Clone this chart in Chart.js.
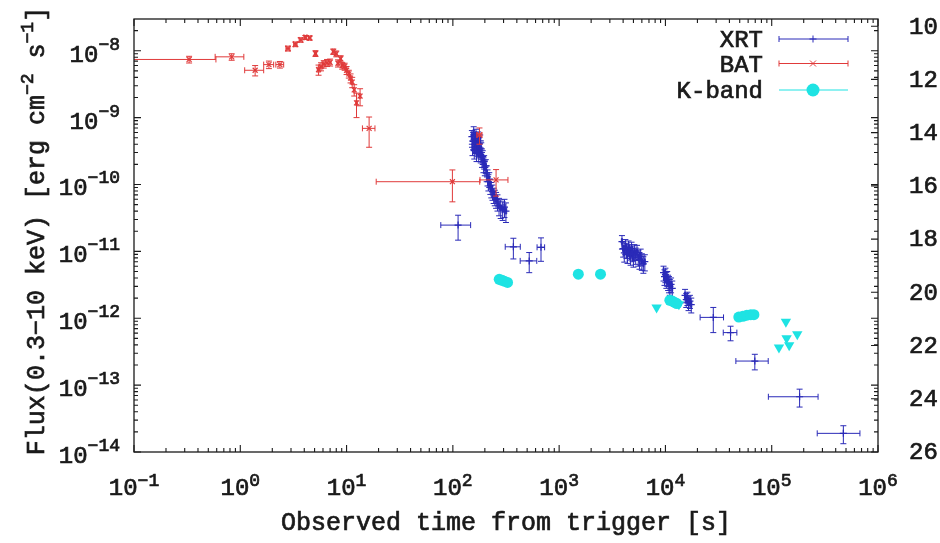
<!DOCTYPE html>
<html>
<head>
<meta charset="utf-8">
<script src="https://cdn.jsdelivr.net/npm/chart.js@4/dist/chart.umd.min.js"></script>
<style>
  html, body { margin: 0; padding: 0; background: #ffffff; }
  canvas { display: block; }
</style>
</head>
<body>
<canvas id="lc" width="940" height="543"></canvas>
<script>
// ---- Swift XRT light curve (0.3-10 keV flux) ----
const xrtTime = [112,
  151, 153, 155, 157, 159, 161, 163, 165, 167, 169, 171, 173, 175, 177, 179, 181, 183, 185, 188, 191, 194, 197, 200, 204, 208, 212, 216, 220,
  225, 230, 236, 242, 248, 255, 263, 272, 282, 294, 306, 316,
  371, 523, 675,
  3900, 4000, 4100, 4200, 4300, 4400, 4500, 4600, 4700, 4800, 4900, 5000, 5100, 5250, 5400, 5550, 5700, 5850, 6000, 6200, 6400,
  9600, 9800, 10000, 10200, 10400, 10600, 10800, 11000, 11300, 11600,
  15300, 15700, 16100, 16500, 17000, 17500,
  28200, 41000, 69350, 183000, 472000];
const xrtTimeErr = [35,
  2, 2, 2, 2, 2, 2, 2, 2, 2, 2, 2, 2, 2, 2, 2, 2, 2, 2, 2, 2, 2, 2, 2, 2, 2, 2, 2, 2,
  3, 3, 3, 3, 3, 4, 4, 4, 5, 5, 5, 5,
  60, 93, 55,
  50, 50, 50, 50, 50, 50, 50, 50, 50, 50, 50, 50, 50, 50, 50, 50, 50, 50, 50, 50, 50,
  100, 100, 100, 100, 100, 100, 100, 100, 100, 100,
  200, 200, 200, 200, 200, 200,
  7000, 6000, 23350, 90000, 204000];
const xrtFlux = [2.47e-11,
  5.2e-10, 3.6e-10, 4.4e-10, 6.0e-10, 3.2e-10, 4.8e-10, 3.9e-10, 5.5e-10, 3.0e-10, 4.2e-10, 3.5e-10, 5.0e-10, 2.9e-10, 4.0e-10, 3.3e-10, 4.5e-10, 2.8e-10, 3.4e-10, 2.4e-10, 2.6e-10, 2.0e-10, 2.2e-10, 1.8e-10, 1.9e-10, 1.5e-10, 1.3e-10, 1.1e-10, 1.2e-10,
  9.5e-11, 8.5e-11, 7.8e-11, 7.0e-11, 6.5e-11, 6.0e-11, 5.5e-11, 4.8e-11, 4.5e-11, 4.2e-11, 4.6e-11, 4.0e-11,
  1.17e-11, 7.2e-12, 1.15e-11,
  1.4e-11, 1.1e-11, 9.5e-12, 1.2e-11, 1.05e-11, 9.0e-12, 1.15e-11, 1.0e-11, 8.5e-12, 1.1e-11, 9.5e-12, 8.0e-12, 1.0e-11, 8.8e-12, 9.8e-12, 8.2e-12, 7.5e-12, 8.5e-12, 7.2e-12, 6.5e-12, 7.0e-12,
  4.8e-12, 4.2e-12, 4.5e-12, 3.8e-12, 4.0e-12, 3.5e-12, 3.3e-12, 3.0e-12, 3.2e-12, 2.8e-12,
  2.2e-12, 1.9e-12, 2.0e-12, 1.7e-12, 1.8e-12, 1.6e-12,
  1.03e-12, 6.1e-13, 2.29e-13, 6.7e-14, 1.9e-14];
const xrtFluxErr = [1.0e-11,
  1.2e-10, 0.9e-10, 1.1e-10, 1.3e-10, 0.8e-10, 1.1e-10, 1.0e-10, 1.2e-10, 0.8e-10, 1.0e-10, 0.9e-10, 1.1e-10, 0.7e-10, 1.0e-10, 0.8e-10, 1.0e-10, 0.7e-10, 0.8e-10, 0.6e-10, 0.6e-10, 0.5e-10, 0.5e-10, 0.45e-10, 0.45e-10, 0.4e-10, 0.35e-10, 0.3e-10, 0.3e-10,
  2.4e-11, 2.2e-11, 2.0e-11, 1.8e-11, 1.7e-11, 1.6e-11, 1.5e-11, 1.4e-11, 1.4e-11, 1.3e-11, 1.4e-11, 1.3e-11,
  4.0e-12, 2.4e-12, 4.4e-12,
  3.2e-12, 2.8e-12, 2.6e-12, 3.0e-12, 2.7e-12, 2.4e-12, 2.8e-12, 2.6e-12, 2.3e-12, 2.7e-12, 2.5e-12, 2.2e-12, 2.6e-12, 2.4e-12, 2.5e-12, 2.2e-12, 2.1e-12, 2.3e-12, 2.0e-12, 1.8e-12, 1.9e-12,
  1.2e-12, 1.1e-12, 1.1e-12, 1.0e-12, 1.0e-12, 0.9e-12, 0.9e-12, 0.8e-12, 0.8e-12, 0.8e-12,
  0.5e-12, 0.45e-12, 0.45e-12, 0.4e-12, 0.4e-12, 0.4e-12,
  0.42e-12, 1.5e-13, 0.6e-13, 2.0e-14, 0.57e-14];

// ---- Swift BAT light curve (extrapolated to 0.3-10 keV) ----
const batTime = [0.33, 0.83, 1.38, 1.86, 2.36, 2.81, 3.3, 3.7, 4.1, 4.5, 5.1, 5.45, 5.75, 6.1, 6.55, 7.0,
  7.5, 8.0, 8.3, 8.8, 9.1, 9.6, 10.0, 10.5, 10.9, 11.3, 11.8, 12.4, 13.4, 16.3, 99, 178, 255];
const batTimeErr = [0.26, 0.25, 0.28, 0.2, 0.2, 0.12, 0.12, 0.12, 0.12, 0.12, 0.12, 0.15, 0.15, 0.15, 0.15, 0.15,
  0.15, 0.15, 0.15, 0.15, 0.15, 0.15, 0.15, 0.15, 0.15, 0.15, 0.2, 0.2, 0.2, 2.2, 80, 10, 75];
const batFlux = [7.4e-9, 8.1e-9, 5.1e-9, 6.2e-9, 6.2e-9, 1.08e-8, 1.25e-8, 1.45e-8, 1.58e-8, 1.55e-8, 9.1e-9, 5.2e-9, 5.8e-9, 6.3e-9, 6.6e-9, 6.7e-9,
  9.7e-9, 9.0e-9, 6.5e-9, 7.6e-9, 6.0e-9, 5.8e-9, 5.1e-9, 4.5e-9, 3.9e-9, 3.4e-9, 2.6e-9, 1.66e-9, 2.1e-9, 6.9e-10, 1.1e-10, 5.5e-10, 1.17e-10];
const batFluxErr = [0.85e-9, 0.9e-9, 0.9e-9, 0.8e-9, 0.7e-9, 0.9e-9, 1.0e-9, 1.1e-9, 1.1e-9, 1.1e-9, 0.9e-9, 0.9e-9, 0.8e-9, 0.8e-9, 0.8e-9, 0.8e-9,
  0.9e-9, 0.9e-9, 0.8e-9, 0.8e-9, 0.7e-9, 0.7e-9, 0.7e-9, 0.6e-9, 0.6e-9, 0.6e-9, 0.5e-9, 0.66e-9, 0.6e-9, 3.3e-10, 5.5e-11, 1.5e-10, 5.0e-11];

// ---- K-band photometry (magnitudes, right axis) ----
const kTime = [273, 290, 305, 327, 1515, 2450, 11000, 11600, 12200, 12800, 49000, 53500, 58400, 63600, 68000];
const kMag  = [19.51, 19.55, 19.58, 19.63, 19.32, 19.32, 20.30, 20.33, 20.38, 20.42, 20.93, 20.90, 20.86, 20.84, 20.84];
// K-band upper limits
const kLimTime = [8260, 13400, 117000, 136000, 138000, 146000, 174000];
const kLimMag  = [20.57, 20.45, 22.07, 21.11, 21.73, 21.99, 21.58];

// ---- axis ticks ----
const timeTickExp = [-1, 0, 1, 2, 3, 4, 5, 6];
const fluxTickExp = [-14, -13, -12, -11, -10, -9, -8];
const magTicks = [10, 12, 14, 16, 18, 20, 22, 24, 26];

const BLUE = '#2a2ab8';
const RED = '#e03a3a';
const CYAN = '#1ee3e3';
const INK = '#1a1a1a';
const FONT = '"Courier New", Courier, "Nimbus Mono PS", "Liberation Mono", monospace';

const toPoints = (xs, ys) => xs.map((x, i) => ({ x: x, y: ys[i] }));

// Text is filled and given a hairline outline so the thin mono face reads a little heavier
function ink(ctx, s, x, y) {
  ctx.fillText(s, x, y);
  ctx.strokeText(s, x, y);
}

// Draws x/y error bars with caps, just before each dataset's markers
const errorBars = {
  id: 'errorBars',
  beforeDatasetDraw(chart, args) {
    const ds = chart.data.datasets[args.index];
    if (!ds.xErr) return;
    const xs = chart.scales[args.meta.xAxisID];
    const ys = chart.scales[args.meta.yAxisID];
    const a = chart.chartArea;
    const ctx = chart.ctx;
    const cap = 3;
    ctx.save();
    ctx.beginPath();
    ctx.rect(a.left, a.top, a.right - a.left, a.bottom - a.top);
    ctx.clip();
    ctx.strokeStyle = ds.borderColor;
    ctx.lineWidth = 1;
    ds.data.forEach((p, i) => {
      const dx = ds.xErr[i], dy = ds.yErr[i];
      const x = xs.getPixelForValue(p.x), y = ys.getPixelForValue(p.y);
      const xl = xs.getPixelForValue(Math.max(p.x - dx, xs.min * 0.5));
      const xr = xs.getPixelForValue(p.x + dx);
      const yb = ys.getPixelForValue(Math.max(p.y - dy, ys.min * 0.1));
      const yt = ys.getPixelForValue(p.y + dy);
      ctx.beginPath();
      ctx.moveTo(xl, y); ctx.lineTo(xr, y);
      ctx.moveTo(xl, y - cap); ctx.lineTo(xl, y + cap);
      ctx.moveTo(xr, y - cap); ctx.lineTo(xr, y + cap);
      ctx.moveTo(x, yb); ctx.lineTo(x, yt);
      ctx.moveTo(x - cap, yb); ctx.lineTo(x + cap, yb);
      ctx.moveTo(x - cap, yt); ctx.lineTo(x + cap, yt);
      ctx.stroke();
    });
    ctx.restore();
  }
};

// Text with a raised exponent: base then superscript
function powWidth(ctx, base, exp, bSize, eSize) {
  ctx.font = bSize + 'px ' + FONT;
  const wb = ctx.measureText(base).width;
  ctx.font = eSize + 'px ' + FONT;
  const we = ctx.measureText(exp).width;
  return [wb, we];
}
function drawPow(ctx, base, exp, x, baseline, raise, bSize, eSize) {
  ctx.textBaseline = 'alphabetic';
  ctx.textAlign = 'left';
  ctx.font = bSize + 'px ' + FONT;
  ink(ctx, base, x, baseline);
  const wb = ctx.measureText(base).width;
  ctx.font = eSize + 'px ' + FONT;
  ink(ctx, exp, x + wb, baseline - raise);
}

// Frame, inward ticks, tick labels, axis titles and key
const frame = {
  id: 'frame',
  afterDraw(chart) {
    const ctx = chart.ctx;
    const a = chart.chartArea;
    const xs = chart.scales.x, ys = chart.scales.y, y2 = chart.scales.y2;
    const major = 7, minor = 4;
    ctx.save();
    ctx.strokeStyle = INK;
    ctx.fillStyle = INK;
    ctx.lineWidth = 1.3;
    ctx.strokeRect(a.left, a.top, a.right - a.left, a.bottom - a.top);

    ctx.lineWidth = 1.1;
    ctx.beginPath();
    // time axis ticks (bottom and mirrored top)
    for (let e = timeTickExp[0]; e <= timeTickExp[timeTickExp.length - 1]; e++) {
      for (let k = 1; k <= 9; k++) {
        const v = k * Math.pow(10, e);
        if (v < xs.min || v > xs.max) continue;
        const px = xs.getPixelForValue(v);
        const len = k === 1 ? major : minor;
        ctx.moveTo(px, a.bottom); ctx.lineTo(px, a.bottom - len);
        ctx.moveTo(px, a.top); ctx.lineTo(px, a.top + len);
      }
    }
    // flux axis ticks (left and mirrored right)
    for (let e = fluxTickExp[0]; e <= fluxTickExp[fluxTickExp.length - 1]; e++) {
      for (let k = 1; k <= 9; k++) {
        const v = k * Math.pow(10, e);
        if (v < ys.min || v > ys.max) continue;
        const py = ys.getPixelForValue(v);
        const len = k === 1 ? major : minor;
        ctx.moveTo(a.left, py); ctx.lineTo(a.left + len, py);
        ctx.moveTo(a.right, py); ctx.lineTo(a.right - len, py);
      }
    }
    // magnitude ticks on the right
    magTicks.forEach(m => {
      const py = y2.getPixelForValue(m);
      ctx.moveTo(a.right, py); ctx.lineTo(a.right - major, py);
    });
    ctx.stroke();

    ctx.lineWidth = 0.7;
    // flux tick labels
    fluxTickExp.forEach(e => {
      const py = ys.getPixelForValue(Math.pow(10, e));
      const [wb, we] = powWidth(ctx, '10', '\u2212' + Math.abs(e), 24, 18);
      drawPow(ctx, '10', '\u2212' + Math.abs(e), 120 - wb - we, py + 11, 12, 24, 18);
    });
    // time tick labels
    timeTickExp.forEach(e => {
      const px = xs.getPixelForValue(Math.pow(10, e));
      const ex = e < 0 ? '\u2212' + Math.abs(e) : String(e);
      const [wb, we] = powWidth(ctx, '10', ex, 24, 18);
      drawPow(ctx, '10', ex, px - (wb + we) / 2, 495, 9, 24, 18);
    });
    // magnitude tick labels
    ctx.font = '24px ' + FONT;
    ctx.textAlign = 'left';
    ctx.textBaseline = 'middle';
    magTicks.forEach(m => {
      ink(ctx, String(m), 909, y2.getPixelForValue(m) + 1);
    });

    // x axis title
    ctx.font = '25px ' + FONT;
    ctx.textAlign = 'center';
    ctx.textBaseline = 'alphabetic';
    ink(ctx, 'Observed time from trigger [s]', (a.left + a.right) / 2, 530);

    // y axis title, rotated, with superscripts
    const parts = [
      ['Flux(0.3\u221210 keV) [erg cm', 0],
      ['\u22122', 1],
      [' s', 0],
      ['\u22121', 1],
      [']', 0]
    ];
    let total = 0;
    parts.forEach(p => {
      ctx.font = (p[1] ? 18 : 25) + 'px ' + FONT;
      total += ctx.measureText(p[0]).width;
    });
    ctx.translate(44, 231);
    ctx.rotate(-Math.PI / 2);
    ctx.textAlign = 'left';
    let cx = -total / 2;
    parts.forEach(p => {
      ctx.font = (p[1] ? 18 : 25) + 'px ' + FONT;
      ink(ctx, p[0], cx, p[1] ? -11 : 0);
      cx += ctx.measureText(p[0]).width;
    });
    ctx.setTransform(1, 0, 0, 1, 0, 0);

    // key
    const rows = [
      { text: 'XRT', y: 39, color: BLUE, mark: 'plus' },
      { text: 'BAT', y: 63.5, color: RED, mark: 'x' },
      { text: 'K-band', y: 90, color: CYAN, mark: 'dot' }
    ];
    const x0 = 779, x1 = 848, xm = 813;
    rows.forEach(r => {
      ctx.fillStyle = INK;
      ctx.strokeStyle = INK;
      ctx.lineWidth = 0.7;
      ctx.font = '24px ' + FONT;
      ctx.textAlign = 'right';
      ctx.textBaseline = 'middle';
      ink(ctx, r.text, 763, r.y + 2);
      ctx.strokeStyle = r.color;
      ctx.fillStyle = r.color;
      ctx.lineWidth = 1;
      ctx.beginPath();
      ctx.moveTo(x0, r.y); ctx.lineTo(x1, r.y);
      if (r.mark !== 'dot') {
        ctx.moveTo(x0, r.y - 3); ctx.lineTo(x0, r.y + 3);
        ctx.moveTo(x1, r.y - 3); ctx.lineTo(x1, r.y + 3);
      }
      if (r.mark === 'plus') {
        ctx.moveTo(xm - 3.5, r.y); ctx.lineTo(xm + 3.5, r.y);
        ctx.moveTo(xm, r.y - 3.5); ctx.lineTo(xm, r.y + 3.5);
      } else if (r.mark === 'x') {
        ctx.moveTo(xm - 3, r.y - 3); ctx.lineTo(xm + 3, r.y + 3);
        ctx.moveTo(xm - 3, r.y + 3); ctx.lineTo(xm + 3, r.y - 3);
      }
      ctx.stroke();
      if (r.mark === 'dot') {
        ctx.beginPath();
        ctx.arc(xm, r.y, 6.5, 0, Math.PI * 2);
        ctx.fill();
      }
    });
    ctx.restore();
  }
};

new Chart(document.getElementById('lc'), {
  type: 'scatter',
  data: {
    datasets: [
      {
        label: 'XRT',
        data: toPoints(xrtTime, xrtFlux),
        xErr: xrtTimeErr, yErr: xrtFluxErr,
        pointStyle: 'cross', pointRadius: 3.5, borderWidth: 1.2,
        borderColor: BLUE, backgroundColor: BLUE,
        yAxisID: 'y', order: 3
      },
      {
        label: 'BAT',
        data: toPoints(batTime, batFlux),
        xErr: batTimeErr, yErr: batFluxErr,
        pointStyle: 'crossRot', pointRadius: 3.5, borderWidth: 1.2,
        borderColor: RED, backgroundColor: RED,
        yAxisID: 'y', order: 2
      },
      {
        label: 'K-band',
        data: toPoints(kTime, kMag),
        pointStyle: 'circle', pointRadius: 5.5, borderWidth: 0,
        borderColor: CYAN, backgroundColor: CYAN,
        yAxisID: 'y2', order: 1
      },
      {
        label: 'K-band upper limits',
        data: toPoints(kLimTime, kLimMag),
        pointStyle: 'triangle', pointRotation: 180, pointRadius: 6, borderWidth: 0,
        borderColor: CYAN, backgroundColor: CYAN,
        yAxisID: 'y2', order: 0
      }
    ]
  },
  options: {
    responsive: false,
    animation: false,
    events: [],
    layout: { autoPadding: false, padding: { left: 134, right: 62, top: 19, bottom: 91 } },
    plugins: { legend: { display: false }, tooltip: { enabled: false } },
    scales: {
      x: { type: 'logarithmic', min: 0.1, max: 1e6, display: false },
      y: { type: 'logarithmic', min: 1e-14, max: 2.98e-8, display: false },
      y2: { type: 'linear', position: 'right', reverse: true, min: 9.73, max: 26, display: false }
    }
  },
  plugins: [errorBars, frame]
});
</script>
</body>
</html>
